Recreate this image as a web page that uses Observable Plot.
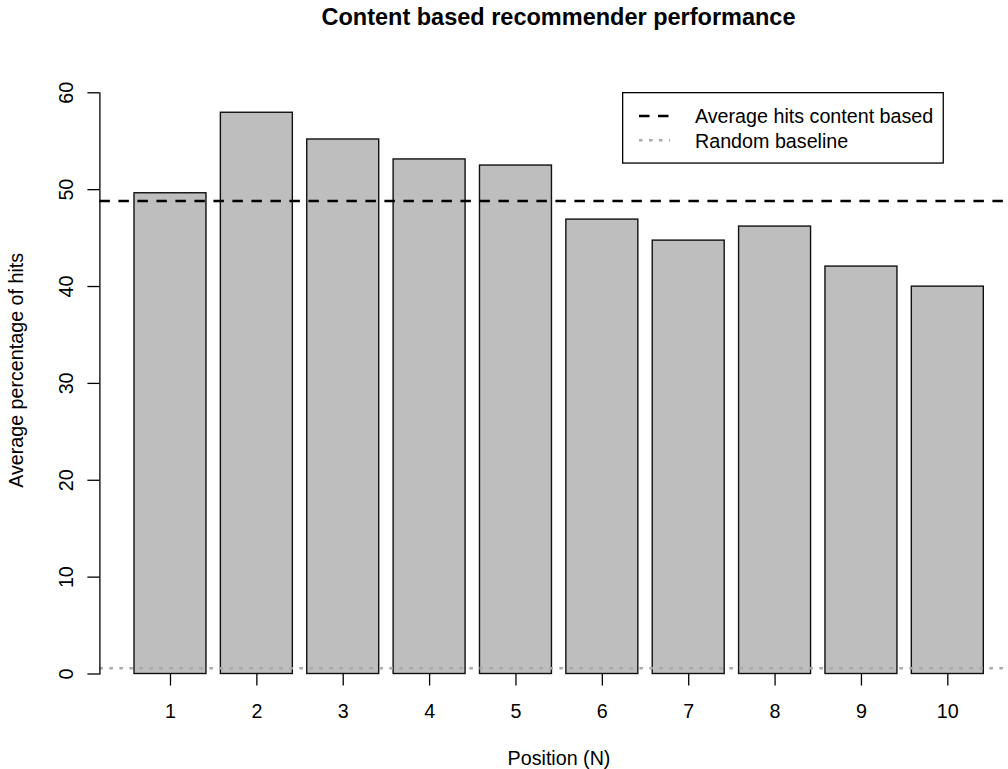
<!DOCTYPE html>
<html><head><meta charset="utf-8">
<script src="https://cdn.jsdelivr.net/npm/d3@7"></script>
<script src="https://cdn.jsdelivr.net/npm/@observablehq/plot@0.6"></script>
<style>
body{margin:0;background:#fff;font-family:"Liberation Sans",Arial,sans-serif;}
#wrap{position:relative;width:1008px;height:769px;overflow:hidden;background:#fff;}
#title{position:absolute;left:0;top:0;width:1117px;height:40px;text-align:center;font-weight:bold;font-size:23.5px;line-height:34px;color:#000;}
#chart{position:absolute;left:0;top:40px;}
#legend{position:absolute;left:622px;top:92px;}
</style></head><body>
<div id="wrap">
  <div id="title">Content based recommender performance</div>
  <div id="chart"></div>
  <svg id="legend" width="324" height="74"></svg>
</div>
<script>
// ---- data ----
const positions = [1, 2, 3, 4, 5, 6, 7, 8, 9, 10];
const hits = [49.63, 57.94, 55.18, 53.12, 52.49, 46.91, 44.74, 46.19, 42.06, 39.99];
const randomBaseline = 0.6;
const yTicks = [0, 10, 20, 30, 40, 50, 60];
const xLabel = "Position (N)";
const yLabel = "Average percentage of hits";
const legendLabels = ["Average hits content based", "Random baseline"];

const averageHits = d3.mean(hits);
const data = positions.map((p, i) => ({position: p, hits: hits[i]}));
const font = '"Liberation Sans", Arial, sans-serif';
const fs = 19.7;

const chart = Plot.plot({
  width: 1008,
  height: 729,
  marginLeft: 99.4,
  marginRight: 0,
  marginTop: 52.3,
  marginBottom: 95.5,
  style: {fontFamily: font, fontSize: fs + "px", color: "black", background: "white", overflow: "hidden"},
  x: {type: "band", domain: positions, paddingInner: 1/6, paddingOuter: 0.3433, align: 0.5835, round: false, label: null},
  y: {domain: [0, 60], label: null},
  marks: [
    Plot.barY(data, {x: "position", y: "hits", fill: "#BEBEBE", stroke: "#111", strokeWidth: 1.4}),
    Plot.ruleY([averageHits], {stroke: "black", strokeWidth: 2.5, strokeDasharray: "10.5,8.5"}),
    Plot.ruleY([randomBaseline], {stroke: "#A9A9A9", strokeWidth: 2.5, strokeDasharray: "3.5,6.5"}),
    Plot.frame({anchor: "left", stroke: "black", strokeWidth: 1.3}),
    Plot.axisY(yTicks, {tickSize: 12, tickRotate: -90, tickPadding: 15.4, fontSize: fs, strokeWidth: 1.3, label: null}),
    Plot.axisX({tickSize: 12, tickPadding: 18.2, fontSize: fs, strokeWidth: 1.3, label: null}),
    Plot.text([yLabel], {text: d => d, frameAnchor: "left", dx: -83.4, dy: -13, rotate: -90, lineAnchor: "middle", textAnchor: "middle", fontSize: fs, fill: "black"}),
    Plot.text([xLabel], {text: d => d, frameAnchor: "bottom", dx: 4.8, dy: 84.7, lineAnchor: "middle", textAnchor: "middle", fontSize: fs, fill: "black"})
  ]
});
document.getElementById("chart").appendChild(chart);

// ---- legend ----
const lg = d3.select("#legend");
lg.append("rect").attr("x", 0.65).attr("y", 0.65).attr("width", 320.6).attr("height", 70.4)
  .attr("fill", "white").attr("stroke", "black").attr("stroke-width", 1.3);
const styles = [
  {stroke: "black", dash: "10.5,8.5"},
  {stroke: "#A9A9A9", dash: "3.5,6.5"}
];
legendLabels.forEach((t, i) => {
  const cy = 24 + i * 24.3;
  lg.append("line").attr("x1", 17).attr("x2", 48).attr("y1", cy).attr("y2", cy)
    .attr("stroke", styles[i].stroke).attr("stroke-width", 2.5).attr("stroke-dasharray", styles[i].dash);
  lg.append("text").attr("x", 73).attr("y", cy + 7.3).attr("font-family", font).attr("font-size", fs)
    .attr("fill", "black").text(t);
});
</script>
</body></html>
